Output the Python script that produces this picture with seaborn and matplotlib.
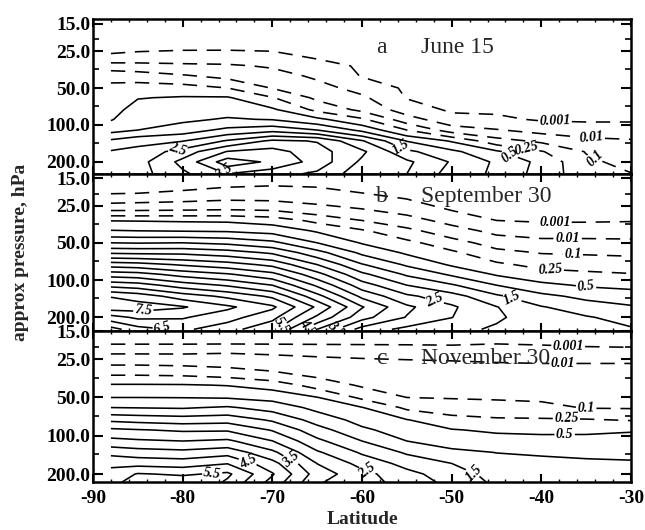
import numpy as np
import matplotlib
matplotlib.use("Agg")
import matplotlib.pyplot as plt
import seaborn as sns
from matplotlib.ticker import FixedLocator, FixedFormatter, NullFormatter, MultipleLocator

# ---------------- data ----------------
LATITUDES = [-88, -85, -80, -75, -70, -65, -60, -55, -50, -45, -40, -35, -30]
PRESSURES = [14, 18, 22, 27, 33, 40, 50, 60, 75, 90, 110, 135, 165, 200, 250]

# one list per latitude column, values top (14 hPa) -> bottom (250 hPa)
JUNE_15 = [
    [0, 0.0003, 0.0006, 0.0017, 0.046, 0.21, 0.305, 0.36, 0.42, 0.48, 0.83, 1.6, 2.05, 2.15, 2.25],
    [0, 0.00035, 0.0007, 0.0024, 0.042, 0.18, 0.36, 0.49, 0.67, 0.83, 1.0, 1.85, 2.15, 2.3, 2.3],
    [0, 0.0004, 0.00075, 0.003, 0.03, 0.12, 0.36, 0.54, 0.74, 0.9, 1.25, 1.98, 2.72, 3.15, 2.9],
    [0, 0.0004, 0.0007, 0.0035, 0.022, 0.076, 0.25, 0.55, 0.8, 1.05, 1.63, 2.56, 3.53, 4.28, 3.5],
    [0, 0.00045, 0.00075, 0.0024, 0.009, 0.046, 0.096, 0.265, 0.58, 0.97, 1.83, 3.1, 3.7, 3.9, 3.2],
    [0, 0.00025, 0.00055, 0.00085, 0.0036, 0.0085, 0.043, 0.081, 0.21, 0.62, 1.5, 2.97, 3.2, 3.3, 2.9],
    [0, 0.0002, 0.00045, 0.0007, 0.0009, 0.00095, 0.0067, 0.027, 0.078, 0.29, 0.87, 2.05, 2.6, 2.4, 2.2],
    [0, 0.00015, 0.0003, 0.00045, 0.0006, 0.00075, 0.00085, 0.00095, 0.0056, 0.049, 0.25, 0.98, 1.62, 2.1, 2.0],
    [0, 0.0001, 0.0002, 0.0003, 0.0004, 0.0005, 0.0006, 0.0007, 0.00085, 0.004, 0.055, 0.475, 1.12, 1.45, 1.3],
    [0, 0.00005, 0.0001, 0.0002, 0.0003, 0.0004, 0.00055, 0.0007, 0.00085, 0.0025, 0.016, 0.16, 0.58, 0.92, 0.9],
    [0, 0.00003, 0.00007, 0.00012, 0.0002, 0.0003, 0.00043, 0.00057, 0.00075, 0.0009, 0.0068, 0.082, 0.27, 0.43, 0.4],
    [0, 0.00003, 0.00005, 0.0001, 0.00017, 0.00025, 0.00038, 0.0005, 0.00067, 0.00087, 0.0049, 0.035, 0.095, 0.13, 0.16],
    [0, 0.00003, 0.00005, 0.0001, 0.00017, 0.00025, 0.00038, 0.0005, 0.00067, 0.00088, 0.0046, 0.02, 0.046, 0.072, 0.105],
]

SEPTEMBER_30 = [
    [0, 0.0005, 0.0052, 0.0865, 0.49, 1.03, 2.0, 2.92, 4.27, 5.27, 6.33, 7.47, 7.8, 6.8, 5.8],
    [0, 0.0005, 0.006, 0.087, 0.485, 1.0, 1.97, 2.89, 4.2, 5.2, 6.22, 7.28, 7.75, 7.1, 6.3],
    [0, 0.0008, 0.0072, 0.093, 0.47, 0.97, 2.0, 2.88, 3.94, 4.82, 5.76, 6.76, 7.55, 7.05, 6.6],
    [0, 0.0015, 0.0087, 0.1, 0.46, 0.94, 1.89, 2.72, 3.72, 4.56, 5.44, 6.39, 7.1, 6.7, 6.2],
    [0.0003, 0.0023, 0.0083, 0.09, 0.39, 0.82, 1.63, 2.42, 3.37, 4.16, 5.0, 5.9, 6.6, 6.15, 5.6],
    [0.0003, 0.0014, 0.0066, 0.046, 0.21, 0.47, 1.0, 1.68, 2.5, 3.18, 3.91, 4.68, 5.41, 4.9, 4.0],
    [0.0001, 0.0007, 0.0044, 0.015, 0.1, 0.283, 0.48, 0.89, 1.54, 2.12, 2.73, 3.38, 4.04, 3.68, 2.8],
    [0, 0.0003, 0.00098, 0.0068, 0.045, 0.14, 0.317, 0.462, 0.925, 1.43, 2.0, 2.6, 3.1, 2.97, 2.35],
    [0, 0.0002, 0.0006, 0.00095, 0.007, 0.048, 0.162, 0.297, 0.467, 0.925, 1.56, 2.21, 2.58, 2.51, 2.2],
    [0, 0.0001, 0.0003, 0.0005, 0.00101, 0.0075, 0.061, 0.145, 0.298, 0.475, 1.0, 1.59, 2.02, 2.1, 1.9],
    [0, 0.0001, 0.0003, 0.0005, 0.0009, 0.0057, 0.037, 0.095, 0.205, 0.35, 0.62, 1.14, 1.53, 1.65, 1.8],
    [0, 0.0001, 0.0003, 0.0004, 0.0009, 0.0059, 0.035, 0.089, 0.19, 0.3, 0.47, 0.86, 1.26, 1.54, 1.65],
    [0, 0.0001, 0.0003, 0.0004, 0.00094, 0.0059, 0.031, 0.083, 0.174, 0.265, 0.435, 0.73, 1.055, 1.335, 1.55],
]

NOVEMBER_30 = [
    [0, 0.0007, 0.0087, 0.087, 0.24, 0.55, 1.0, 1.5, 2.4, 3.1, 3.66, 4.34, 4.9, 5.16, 5.4],
    [0, 0.0007, 0.0087, 0.087, 0.24, 0.55, 1.0, 1.48, 2.33, 3.03, 3.58, 4.23, 4.83, 5.54, 6.05],
    [0, 0.0007, 0.0087, 0.081, 0.23, 0.54, 0.99, 1.45, 2.25, 2.93, 3.5, 4.15, 4.77, 5.43, 6.05],
    [0, 0.0007, 0.0094, 0.069, 0.2, 0.49, 0.96, 1.56, 2.31, 2.94, 3.6, 4.31, 4.98, 5.6, 5.3],
    [0, 0.0007, 0.0087, 0.057, 0.135, 0.4, 0.84, 1.3, 1.93, 2.46, 3.01, 3.62, 4.18, 4.55, 4.2],
    [0, 0.0007, 0.008, 0.042, 0.08, 0.19, 0.52, 0.86, 1.3, 1.7, 2.12, 2.57, 2.99, 3.27, 3.0],
    [0, 0.0007, 0.0074, 0.033, 0.061, 0.088, 0.22, 0.52, 0.82, 1.1, 1.5, 1.93, 2.33, 2.67, 2.65],
    [0, 0.0007, 0.0069, 0.027, 0.051, 0.074, 0.1, 0.22, 0.52, 0.75, 1.0, 1.43, 1.83, 2.16, 2.4],
    [0, 0.0007, 0.0061, 0.023, 0.046, 0.069, 0.095, 0.169, 0.34, 0.53, 0.79, 1.11, 1.5, 1.73, 1.9],
    [0, 0.00085, 0.0053, 0.015, 0.04, 0.064, 0.09, 0.157, 0.285, 0.46, 0.71, 0.99, 1.18, 1.32, 1.45],
    [0, 0.0008, 0.0046, 0.01, 0.035, 0.058, 0.085, 0.138, 0.28, 0.445, 0.67, 0.94, 1.13, 1.25, 1.35],
    [0, 0.0007, 0.004, 0.01, 0.031, 0.051, 0.075, 0.095, 0.27, 0.45, 0.66, 0.89, 1.09, 1.2, 1.3],
    [0, 0.00065, 0.0037, 0.01, 0.031, 0.051, 0.074, 0.093, 0.24, 0.48, 0.67, 0.87, 1.06, 1.17, 1.3],
]

DASHED_LEVELS = [0.001, 0.01, 0.1, 0.25]
SOLID_LEVELS = [0.5, 1.0, 1.5, 2.0, 2.5, 3.0, 3.5, 4.0, 4.5, 5.0, 5.5, 6.0, 6.5, 7.0, 7.5, 8.0]
PANEL_LETTERS = ["a", "b", "c"]
PANEL_DATES = ["June 15", "September 30", "November 30"]
Y_TICKS = [15, 25, 50, 100, 200]
Y_TICK_LABELS = ["15.0", "25.0", "50.0", "100.0", "200.0"]
X_TICKS = [-90, -80, -70, -60, -50, -40, -30]
X_TICK_LABELS = ["-90", "-80", "-70", "-60", "-50", "-40", "-30"]

# contour-label spots (value, latitude, pressure) -- layout only
LABEL_SPOTS = [
    [(0.001, -38.5, 102), (0.01, -34.4, 124), (0.25, -41.8, 163), (0.5, -43.8, 179),
     (0.1, -33.9, 185), (1.5, -56.1, 163), (2.5, -80.5, 160), (3.5, -75.5, 245)],
    [(0.001, -38.5, 34), (0.01, -37, 46), (0.1, -36.5, 63), (0.25, -39, 84), (0.5, -35, 112),
     (1.5, -43.4, 145), (2.5, -51.7, 140), (3.5, -64, 237), (4.5, -66.2, 240), (5.5, -69, 235),
     (6.5, -82.2, 245), (7.5, -84, 215)],
    [(0.001, -37, 17), (0.01, -37.6, 27), (0.1, -35, 64), (0.25, -37.2, 71), (0.5, -37.4, 98),
     (1.5, -47.8, 200), (2.5, -58.8, 176), (3.5, -68, 156), (4.5, -73.1, 171), (5.5, -76.8, 187)],
]

# ---------------- style ----------------
sns.set_style("ticks")
plt.rcParams["font.family"] = ["Liberation Serif", "DejaVu Serif"]
plt.rcParams["lines.dashed_pattern"] = [9.0, 6.0]
plt.rcParams["axes.linewidth"] = 1.8

# monotone mapping used only for drawing (keeps the log-spaced levels evenly spread)
ANCHOR_VALUES = [0.0, 0.001, 0.01, 0.1, 0.25, 0.5, 9.0]
ANCHOR_INDEX = [-1.0, 0.0, 1.0, 2.0, 3.0, 4.0, 21.0]


def to_index(v):
    return np.interp(v, ANCHOR_VALUES, ANCHOR_INDEX)


def fmt_value(v):
    return "%g" % v


def style_for(v):
    return "dashed" if v < 0.5 else "solid"


fig = plt.figure(figsize=(6.45, 5.3), dpi=100)
W, H = 645.0, 530.0
X0, X1 = 93.0, 631.0
panel_px = [(19, 174), (174, 331), (331, 482)]
ylims = [(251, 13.7), (258, 13.9), (231, 15.0)]
title_p = [23.5, 21.0, 24.5]
fields = [JUNE_15, SEPTEMBER_30, NOVEMBER_30]
LW = 1.15

levels = DASHED_LEVELS + SOLID_LEVELS

lat = np.array(LATITUDES, dtype=float)
prs = np.array(PRESSURES, dtype=float)

for k in range(3):
    top, bot = panel_px[k]
    ax = fig.add_axes([X0 / W, 1 - bot / H, (X1 - X0) / W, (bot - top) / H])
    Zi = to_index(np.array(fields[k], dtype=float).T)  # rows = pressure, cols = latitude

    labelled = [s[0] for s in LABEL_SPOTS[k]]
    plain = [v for v in levels if v not in labelled]
    ax.contour(lat, prs, Zi, levels=[float(to_index(v)) for v in plain], colors="black",
               linewidths=LW, linestyles=[style_for(v) for v in plain])

    for value, la, pp in LABEL_SPOTS[k]:
        lv = float(to_index(value))
        if not (Zi.min() < lv < Zi.max()):
            continue
        cs1 = ax.contour(lat, prs, Zi, levels=[lv], colors="black", linewidths=LW,
                         linestyles=[style_for(value)])
        try:
            txts = ax.clabel(cs1, manual=[(la, pp)], inline=True, inline_spacing=2,
                             fmt={cs1.levels[0]: fmt_value(value)}, fontsize=10)
            for t in txts:
                t.set_fontweight("bold")
                t.set_fontstyle("italic")
        except Exception:
            pass

    ax.set_yscale("log")
    ax.set_ylim(*ylims[k])
    ax.set_xlim(-90, -30)

    ax.yaxis.set_major_locator(FixedLocator(Y_TICKS))
    ax.yaxis.set_major_formatter(FixedFormatter(Y_TICK_LABELS))
    ax.yaxis.set_minor_locator(FixedLocator([20, 35, 70, 140]))
    ax.yaxis.set_minor_formatter(NullFormatter())
    ax.xaxis.set_major_locator(FixedLocator(X_TICKS))
    ax.xaxis.set_major_formatter(FixedFormatter(X_TICK_LABELS))
    ax.xaxis.set_minor_locator(MultipleLocator(2))
    ax.tick_params(axis="both", which="both", direction="in", top=True, right=True,
                   colors="black")
    ax.tick_params(axis="y", which="major", length=7, width=1.5, pad=2, labelsize=14)
    ax.tick_params(axis="y", which="minor", length=4, width=1.2)
    ax.tick_params(axis="x", which="major", length=6, width=1.5, pad=6, labelsize=14)
    ax.tick_params(axis="x", which="minor", length=2.5, width=1.0)
    for lbl in ax.get_yticklabels() + ax.get_xticklabels():
        lbl.set_fontweight("bold")
    if k < 2:
        ax.tick_params(axis="x", labelbottom=False)
    for s in ax.spines.values():
        s.set_linewidth(1.8)
        s.set_color("black")

    ax.text(-57.8, title_p[k], PANEL_LETTERS[k], ha="center", va="center", fontsize=17)
    ax.text(-53.4, title_p[k], PANEL_DATES[k], ha="left", va="center", fontsize=17)

fig.text(21 / W, 1 - 252 / H, "approx pressure, hPa", rotation=90, ha="center",
         va="center", fontsize=14, fontweight="bold")
fig.text(362 / W, 1 - 520 / H, "Latitude", ha="center", va="center", fontsize=14,
         fontweight="bold")

fig.savefig("out.png", dpi=100)
